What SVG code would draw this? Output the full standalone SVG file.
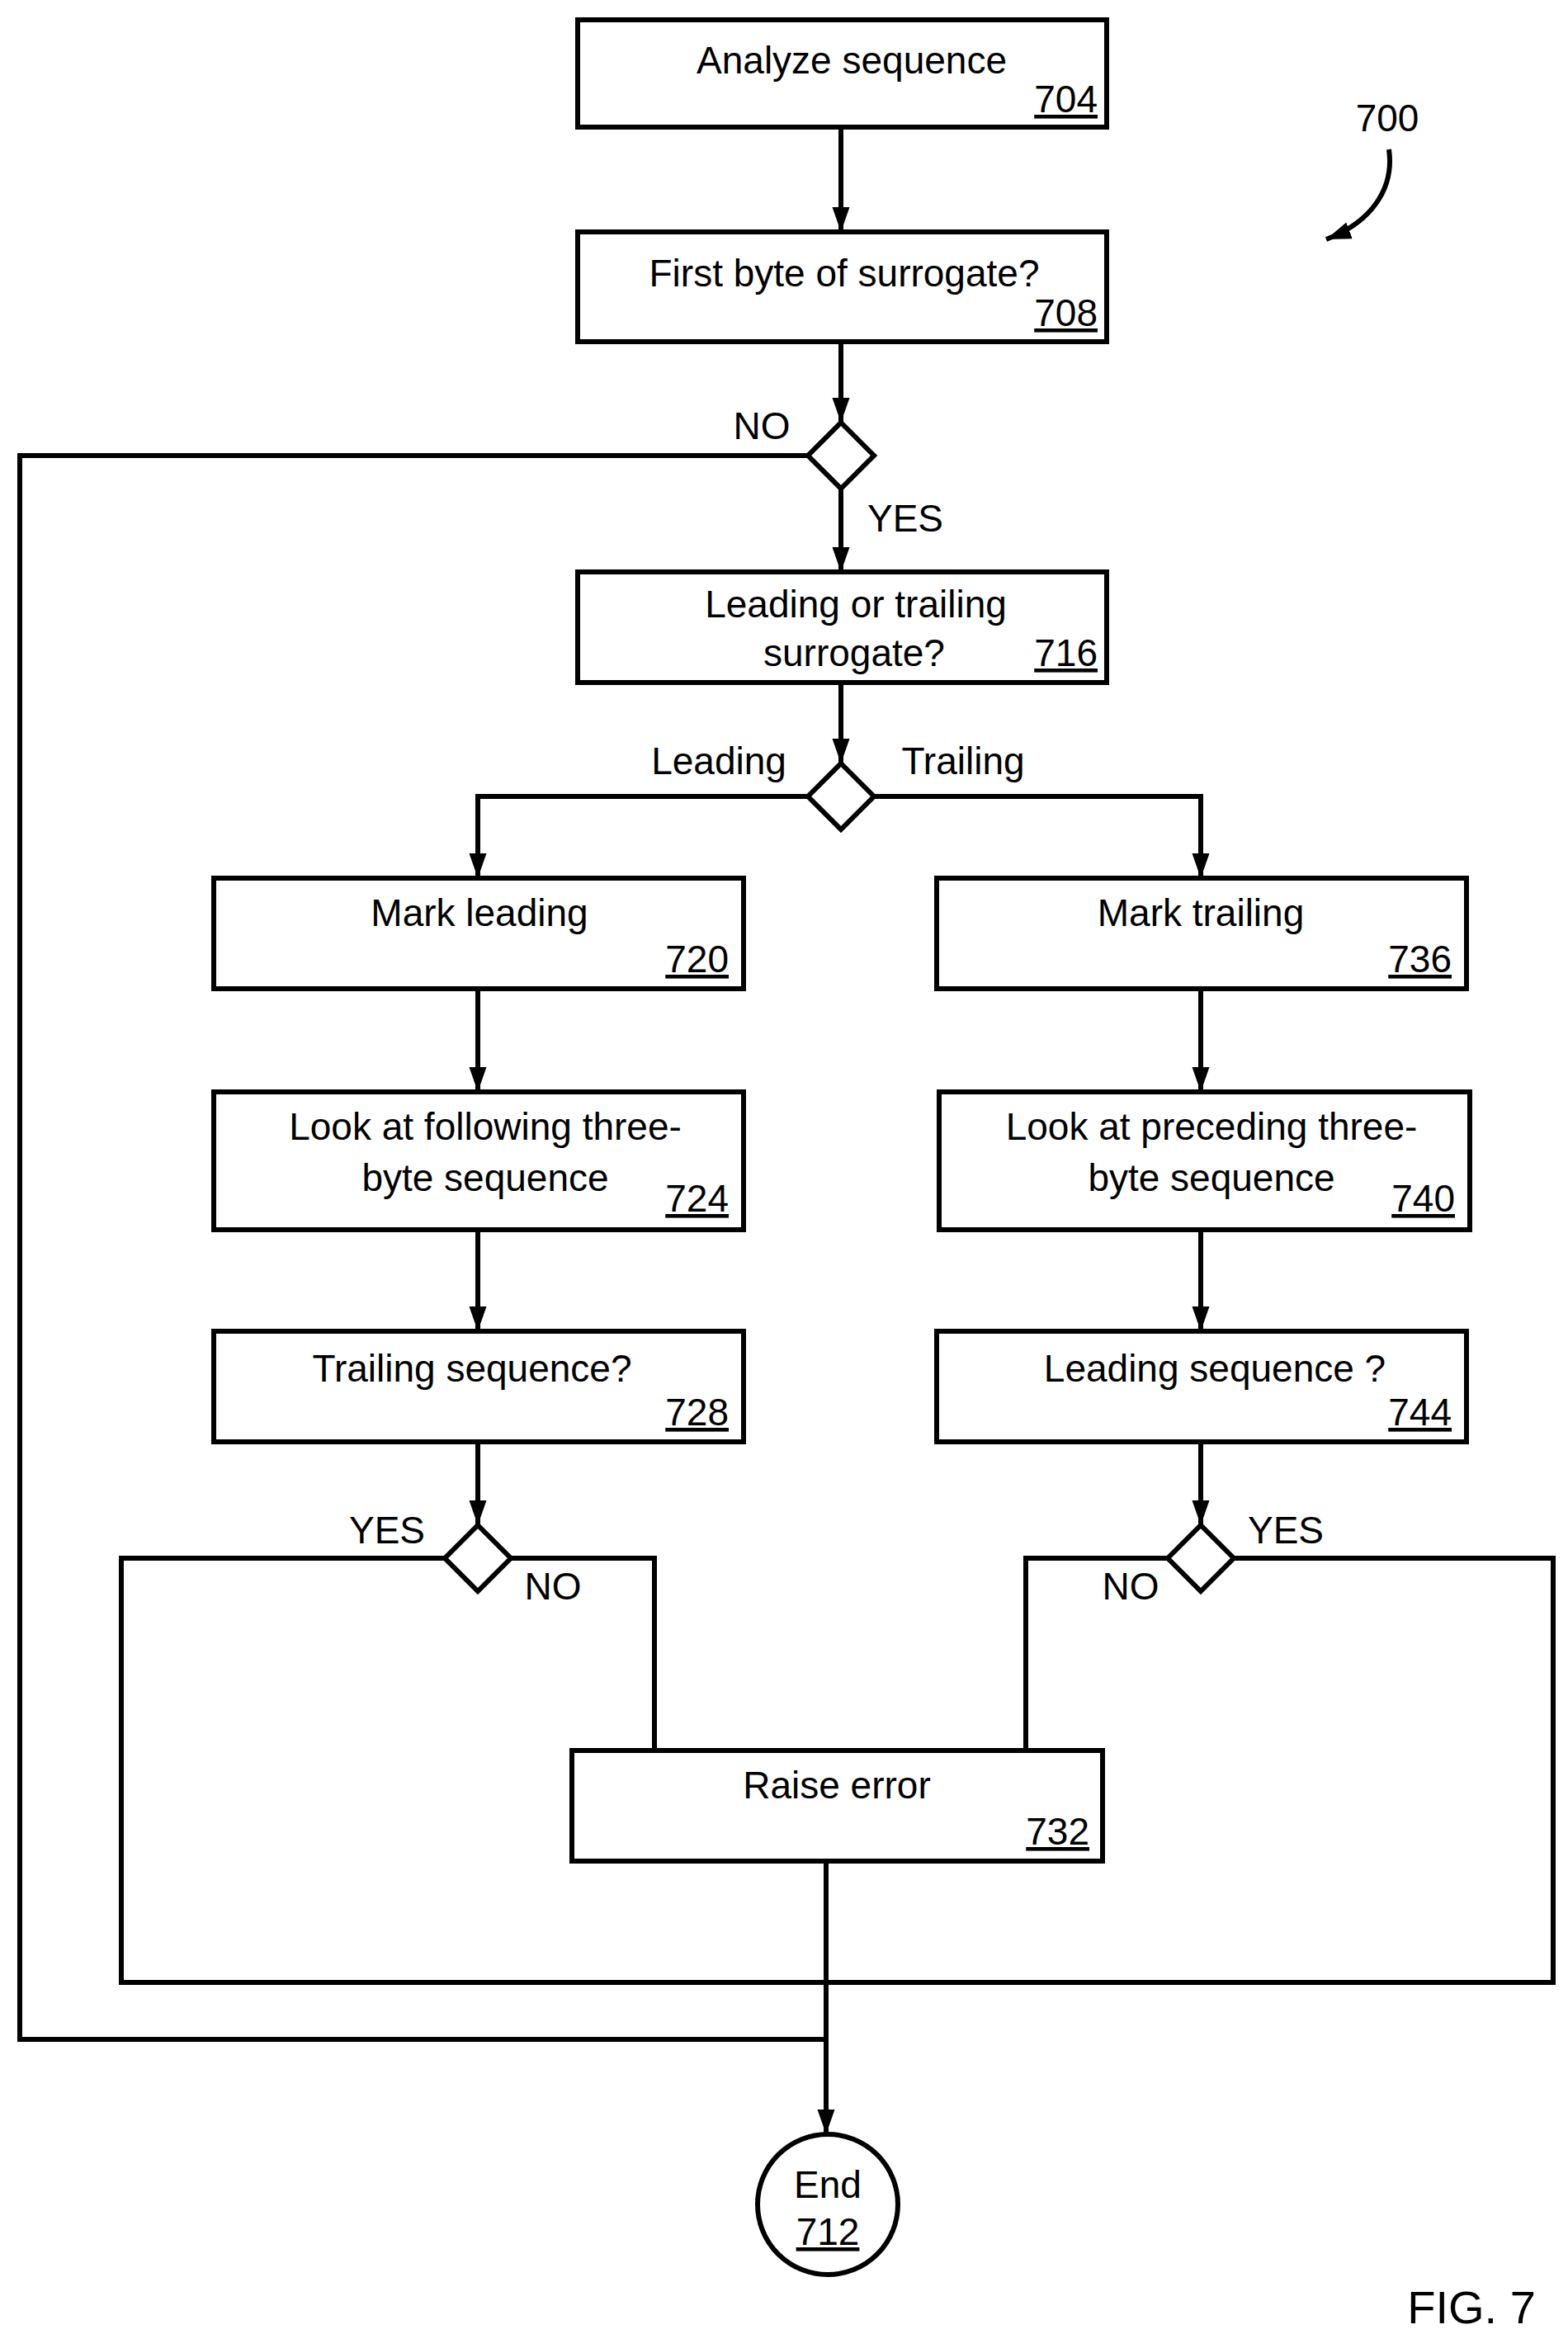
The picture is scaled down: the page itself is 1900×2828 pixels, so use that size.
<svg xmlns="http://www.w3.org/2000/svg" width="1900" height="2828" viewBox="0 0 1900 2828">
<defs>
<marker id="a" viewBox="0 0 10 10" refX="10" refY="5" markerWidth="30" markerHeight="30" markerUnits="userSpaceOnUse" orient="auto"><path d="M0,1.5 L10,5 L0,8.5 z" fill="#000"/></marker>
</defs>
<style>
.n rect,.n circle,.n polygon{fill:#fff;stroke:#000;stroke-width:6}
.c path{fill:none;stroke:#000;stroke-width:6}
text{font-family:"Liberation Sans",Arial,sans-serif;font-size:46px;fill:#000}
.m{text-anchor:middle}.r{text-anchor:end;text-decoration:underline}
</style>
<rect width="1900" height="2828" fill="#fff"/>
<g class="c" id="connectors">
<path d="M1019,154 V281" marker-end="url(#a)"/>
<path d="M1019,414 V512" marker-end="url(#a)"/>
<path d="M1019,592 V693" marker-end="url(#a)"/>
<path d="M979,552 H24 V2471 H1001"/>
<path d="M1019,827 V925" marker-end="url(#a)"/>
<path d="M979,965 H579 V1064" marker-end="url(#a)"/>
<path d="M1059,965 H1455 V1064" marker-end="url(#a)"/>
<path d="M579,1198 V1323" marker-end="url(#a)"/>
<path d="M1455,1198 V1323" marker-end="url(#a)"/>
<path d="M579,1490 V1613" marker-end="url(#a)"/>
<path d="M1455,1490 V1613" marker-end="url(#a)"/>
<path d="M579,1747 V1848" marker-end="url(#a)"/>
<path d="M1455,1747 V1848" marker-end="url(#a)"/>
<path d="M539,1888 H147 V2402 H1882 V1888 H1495"/>
<path d="M619,1888 H793 V2121"/>
<path d="M1415,1888 H1243 V2121"/>
<path d="M1001,2255 V2586" marker-end="url(#a)"/>
<path d="M1683,181 C1690,230 1660,270 1607,290" marker-end="url(#a)"/>
</g>
<g class="n">
<g id="n704"><rect x="700" y="24" width="641" height="130"/><text x="1032" y="89" class="m">Analyze sequence</text><text x="1330" y="136" class="r">704</text></g>
<g id="n708"><rect x="700" y="281" width="641" height="133"/><text x="1023" y="347" class="m">First byte of surrogate?</text><text x="1330" y="395" class="r">708</text></g>
<g id="d1"><polygon points="1019,512 1059,552 1019,592 979,552"/><text x="923" y="532" class="m">NO</text><text x="1097" y="644" class="m">YES</text></g>
<g id="n716"><rect x="700" y="693" width="641" height="134"/><text x="1037" y="748" class="m">Leading or trailing</text><text x="1035" y="807" class="m">surrogate?</text><text x="1330" y="807" class="r">716</text></g>
<g id="d2"><polygon points="1019,925 1059,965 1019,1005 979,965"/><text x="871" y="938" class="m">Leading</text><text x="1167" y="938" class="m">Trailing</text></g>
<g id="n720"><rect x="259" y="1064" width="642" height="134"/><text x="581" y="1122" class="m">Mark leading</text><text x="883" y="1178" class="r">720</text></g>
<g id="n736"><rect x="1135" y="1064" width="642" height="134"/><text x="1455" y="1122" class="m">Mark trailing</text><text x="1759" y="1178" class="r">736</text></g>
<g id="n724"><rect x="259" y="1323" width="642" height="167"/><text x="588" y="1381" class="m">Look at following three-</text><text x="588" y="1443" class="m">byte sequence</text><text x="883" y="1468" class="r">724</text></g>
<g id="n740"><rect x="1138" y="1323" width="643" height="167"/><text x="1468" y="1381" class="m">Look at preceding three-</text><text x="1468" y="1443" class="m">byte sequence</text><text x="1763" y="1468" class="r">740</text></g>
<g id="n728"><rect x="259" y="1613" width="642" height="134"/><text x="572" y="1674" class="m">Trailing sequence?</text><text x="883" y="1727" class="r">728</text></g>
<g id="n744"><rect x="1135" y="1613" width="642" height="134"/><text x="1472" y="1674" class="m">Leading sequence ?</text><text x="1759" y="1727" class="r">744</text></g>
<g id="d3"><polygon points="579,1848 619,1888 579,1928 539,1888"/><text x="469" y="1870" class="m">YES</text><text x="670" y="1938" class="m">NO</text></g>
<g id="d4"><polygon points="1455,1848 1495,1888 1455,1928 1415,1888"/><text x="1370" y="1938" class="m">NO</text><text x="1558" y="1870" class="m">YES</text></g>
<g id="n732"><rect x="693" y="2121" width="643" height="134"/><text x="1014" y="2179" class="m">Raise error</text><text x="1320" y="2235" class="r">732</text></g>
<g id="n712"><circle cx="1003" cy="2671" r="85"/><text x="1003" y="2663" class="m">End</text><text x="1003" y="2720" class="m" style="text-decoration:underline">712</text></g>
</g>
<g id="labels"><text x="1681" y="159" class="m">700</text><text x="1783" y="2815" class="m" style="font-size:56px">FIG. 7</text></g>
</svg>
